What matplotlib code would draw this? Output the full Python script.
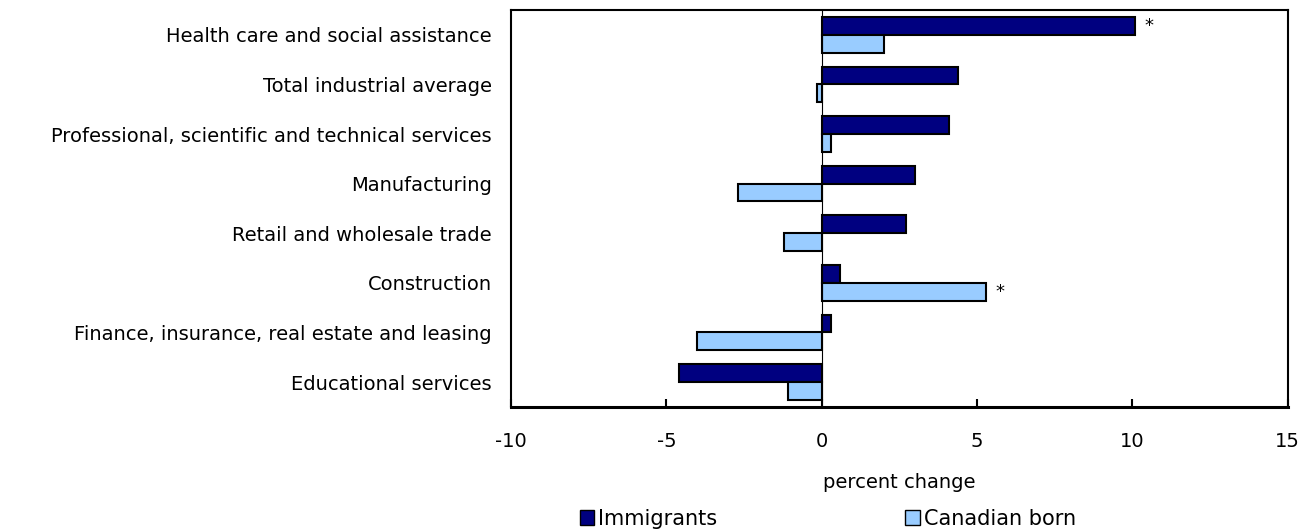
import numpy as np
import matplotlib.pyplot as plt
from matplotlib.patches import Patch

categories = [
    "Health care and social assistance",
    "Total industrial average",
    "Professional, scientific and technical services",
    "Manufacturing",
    "Retail and wholesale trade",
    "Construction",
    "Finance, insurance, real estate and leasing",
    "Educational services",
]
immigrants = [10.1, 4.4, 4.1, 3.0, 2.7, 0.6, 0.3, -4.6]
canadian_born = [2.0, -0.15, 0.3, -2.7, -1.2, 5.3, -4.0, -1.1]
imm_signif = [True, False, False, False, False, False, False, False]
cb_signif = [False, False, False, False, False, True, False, False]
xticks = [-10, -5, 0, 5, 10, 15]

DARK = "#000080"
LIGHT = "#99CCFF"

plt.rcParams["font.family"] = ["DejaVu Sans"]
plt.rcParams["font.size"] = 14

fig = plt.figure(figsize=(13.12, 5.29), dpi=100)
ax = fig.add_axes([0.3895, 0.231, 0.592, 0.75])

y = np.arange(len(categories))
h = 0.36
ax.barh(y - h / 2, immigrants, height=h, color=DARK, edgecolor="black", linewidth=1.5, zorder=3)
ax.barh(y + h / 2, canadian_born, height=h, color=LIGHT, edgecolor="black", linewidth=1.5, zorder=3)

# significance markers
for i in range(len(categories)):
    if imm_signif[i]:
        ax.text(immigrants[i] + 0.3, y[i] - h / 2, "*", va="center", ha="left", fontsize=13)
    if cb_signif[i]:
        ax.text(canadian_born[i] + 0.3, y[i] + h / 2, "*", va="center", ha="left", fontsize=13)

ax.axvline(0, color="black", linewidth=0.8, zorder=4)

ax.set_xlim(-10, 15)
ax.set_ylim(len(categories) - 0.5, -0.5)
ax.set_xticks(xticks)
ax.set_xticklabels([str(t) for t in xticks])
ax.set_yticks(y)
ax.set_yticklabels(categories)
ax.tick_params(axis="y", length=0, pad=14)
ax.tick_params(axis="x", direction="in", length=6, width=1.5, pad=18)

for s in ["top", "right", "left"]:
    ax.spines[s].set_linewidth(1.5)
ax.spines["bottom"].set_linewidth(2.2)

ax.set_xlabel("percent change", labelpad=16)

handles = [
    Patch(facecolor=DARK, edgecolor="black", label="Immigrants"),
    Patch(facecolor=LIGHT, edgecolor="black", label="Canadian born"),
]
fig.legend(handles=handles, loc="lower center", bbox_to_anchor=(0.631, -0.035), ncol=2,
           frameon=False, handlelength=0.7, handleheight=0.7, handletextpad=0.2,
           columnspacing=9.0, fontsize=15)

fig.savefig("out.png", dpi=100)
